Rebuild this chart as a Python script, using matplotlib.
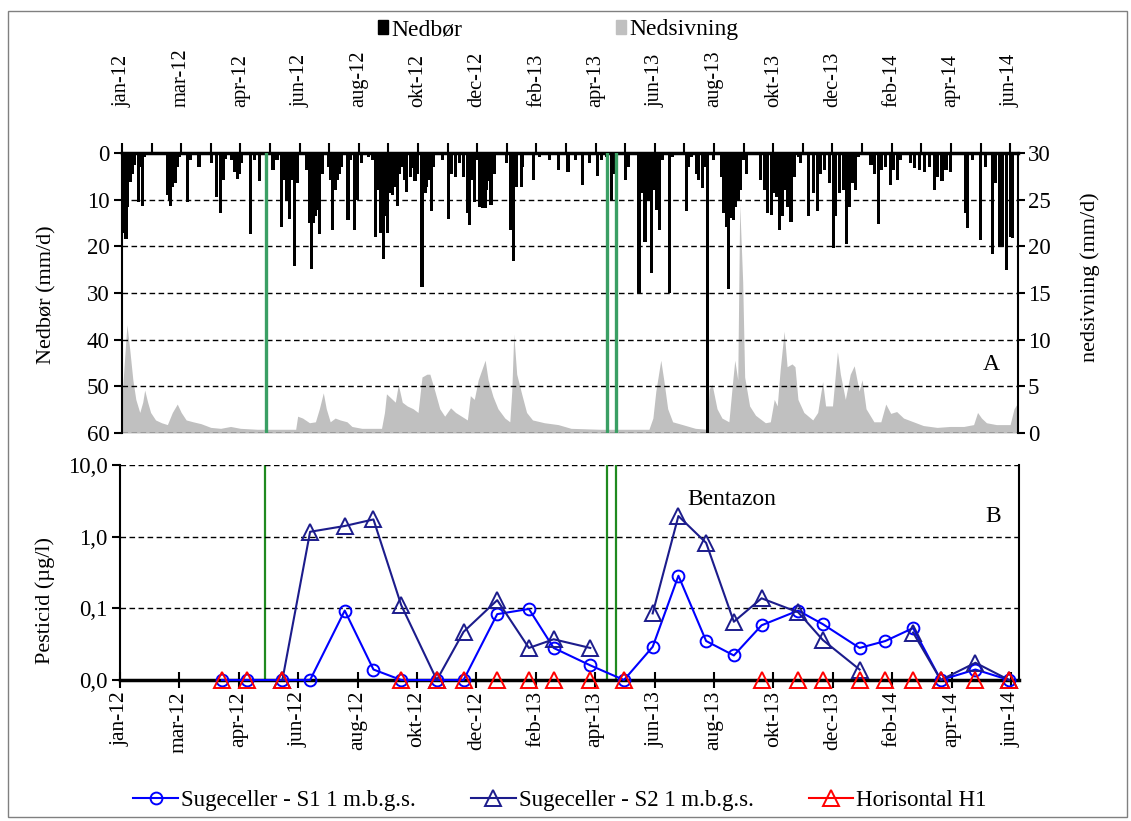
import numpy as np, matplotlib; matplotlib.use('Agg')
import matplotlib.pyplot as plt
from matplotlib.lines import Line2D
from matplotlib.patches import Patch, Rectangle
from matplotlib.ticker import NullLocator

plt.rcParams['font.family'] = ['Liberation Serif', 'DejaVu Serif']
FS_NUM = 16.5     # y tick numbers
FS_TOP = 14.7     # rotated month labels, top
FS_BOT = 15.5     # rotated month labels, bottom
FS_TXT = 17       # legends and notes

# x in days after 1 Jan 2012; Excel date axis with 60-day major unit
TICK_DAYS = list(range(0, 901, 60))
TICK_LABELS = ['jan-12', 'mar-12', 'apr-12', 'jun-12', 'aug-12', 'okt-12', 'dec-12', 'feb-13',
               'apr-13', 'jun-13', 'aug-13', 'okt-13', 'dec-13', 'feb-14', 'apr-14', 'jun-14']
APPLIC_DAYS = [146, 492, 501]  # green markers (application dates)

# Nedbør (mm/d)
RAIN_DAY = [2, 4, 6, 9, 11, 13, 17, 19, 21, 23, 46, 48, 49, 51, 54, 56, 58, 66, 69, 78,
            91, 96, 100, 103, 105, 111, 114, 117, 119, 121, 130, 134, 139, 153, 157, 162, 165, 167, 170, 172,
            175, 178, 187, 190, 192, 194, 196, 199, 200, 203, 209, 211, 213, 216, 218, 220, 222, 229, 231, 236,
            239, 243, 250, 254, 257, 259, 262, 265, 267, 269, 271, 274, 276, 279, 281, 284, 286, 288, 292, 294,
            297, 299, 304, 307, 309, 311, 314, 316, 325, 331, 334, 338, 342, 346, 350, 352, 355, 357, 359, 362,
            365, 368, 369, 372, 374, 377, 390, 394, 397, 400, 405, 406, 417, 423, 433, 442, 452, 460, 467, 474,
            482, 486, 491, 496, 499, 510, 513, 524, 527, 530, 534, 537, 540, 542, 545, 548, 555, 558, 572, 574,
            577, 582, 584, 588, 590, 593, 599, 608, 610, 613, 615, 617, 620, 622, 625, 627, 630, 633, 647, 651,
            654, 658, 660, 663, 666, 669, 672, 674, 678, 681, 686, 688, 696, 701, 705, 708, 712, 717, 721, 723,
            727, 731, 734, 737, 740, 743, 746, 759, 763, 767, 770, 774, 779, 782, 786, 789, 799, 803, 808, 813,
            818, 823, 826, 831, 835, 840, 855, 857, 862, 870, 875, 882, 885, 889, 892, 896, 900, 902]
RAIN_MM = [17.2, 18.5, 11.5, 6.3, 4.4, 2.6, 10.4, 3.0, 11.4, 0.8, 9.0, 10.1, 11.4, 7.2, 6.5, 2.9, 0.8, 10.4, 1.5, 2.9,
           2.2, 9.4, 12.8, 5.8, 1.2, 1.5, 4.0, 5.6, 4.4, 2.2, 17.4, 1.5, 6.1, 3.6, 1.5, 15.9, 5.8, 10.1, 14.1, 5.8,
           24.2, 6.5, 3.6, 15.1, 24.9, 15.1, 13.6, 12.2, 17.4, 4.4, 2.9, 5.8, 16.4, 7.9, 5.8, 4.4, 2.9, 14.4, 1.5, 16.4,
           10.1, 2.2, 0.8, 1.5, 17.9, 7.9, 17.2, 22.7, 13.6, 17.1, 8.6, 9.0, 7.2, 11.4, 4.4, 2.9, 5.8, 8.3, 5.1, 3.3,
           6.1, 4.4, 28.7, 8.6, 7.2, 5.8, 12.4, 2.9, 1.5, 14.1, 4.4, 5.1, 2.2, 5.1, 12.9, 15.4, 5.8, 10.4, 1.5, 11.5,
           11.7, 11.7, 7.9, 6.1, 11.1, 4.4, 2.2, 16.5, 23.1, 7.2, 7.2, 2.9, 5.8, 0.8, 1.5, 3.6, 4.0, 1.5, 6.9, 2.2,
           4.9, 1.5, 0.8, 10.1, 4.4, 5.8, 2.9, 29.9, 8.6, 19.0, 10.1, 25.8, 7.9, 12.2, 16.5, 1.5, 29.9, 0.8, 12.4, 2.9,
           0.8, 4.4, 5.8, 7.6, 2.9, 62.0, 1.5, 5.1, 12.9, 15.8, 29.2, 14.0, 14.4, 11.5, 10.1, 7.9, 1.5, 4.4, 5.8, 7.9,
           12.9, 13.3, 8.6, 9.4, 16.5, 13.6, 7.9, 11.5, 14.7, 5.1, 0.8, 2.2, 13.6, 8.6, 12.5, 4.4, 3.6, 6.5, 20.4, 13.6,
           8.6, 7.9, 19.4, 11.5, 6.5, 7.9, 0.8, 2.6, 4.4, 15.3, 3.6, 2.9, 6.9, 3.6, 5.8, 1.5, 2.2, 3.3, 3.6, 4.0,
           2.9, 7.9, 5.1, 6.1, 3.6, 4.0, 12.9, 16.1, 1.5, 18.6, 2.9, 21.7, 6.5, 20.1, 20.1, 25.0, 17.9, 18.2]

# Nedsivning (mm/d)
PERC_DAY = [0, 2, 5, 8, 11, 14, 18, 21, 23, 26, 29, 34, 40, 46, 51, 56, 60, 65, 72, 80,
            90, 100, 110, 120, 137, 164, 176, 178, 183, 190, 196, 200, 204, 207, 211, 216, 221, 228, 233, 243,
            263, 266, 268, 273, 277, 280, 284, 289, 295, 300, 304, 309, 312, 317, 322, 327, 333, 338, 344, 350,
            353, 357, 361, 365, 368, 371, 376, 381, 388, 393, 395, 397, 400, 405, 410, 416, 428, 442, 455, 484,
            534, 538, 541, 546, 549, 553, 558, 568, 581, 593, 595, 598, 603, 608, 615, 619, 621, 624, 626, 629,
            631, 636, 642, 652, 657, 661, 664, 667, 671, 674, 679, 682, 685, 691, 700, 705, 710, 713, 720, 725,
            728, 733, 738, 742, 747, 750, 754, 762, 769, 774, 779, 785, 792, 802, 812, 826, 839, 853, 863, 867,
            871, 876, 886, 900, 904, 907]
PERC_MM = [3.7, 7.0, 11.6, 8.8, 5.7, 3.6, 2.2, 3.3, 4.6, 3.3, 2.2, 1.4, 1.1, 0.9, 2.2, 3.1, 2.2, 1.4, 1.2, 1.0,
           0.6, 0.5, 0.7, 0.5, 0.4, 0.4, 0.4, 1.8, 1.6, 1.1, 1.2, 2.6, 4.3, 2.6, 1.2, 1.6, 1.4, 1.2, 0.7, 0.5,
           0.5, 2.2, 4.2, 3.7, 3.3, 5.2, 3.3, 2.9, 2.6, 2.2, 6.0, 6.3, 6.3, 4.5, 2.6, 1.8, 2.7, 2.2, 1.8, 1.4,
           4.0, 3.6, 5.7, 6.9, 7.8, 5.7, 3.9, 2.6, 1.6, 1.2, 4.5, 10.6, 6.3, 4.2, 2.2, 1.4, 1.1, 0.9, 0.5, 0.4,
           0.4, 1.6, 4.5, 7.8, 5.7, 2.6, 1.2, 0.9, 0.5, 0.4, 4.7, 5.2, 2.6, 1.6, 1.2, 5.7, 7.8, 5.7, 24.5, 16.2,
           6.0, 2.9, 1.9, 1.1, 1.2, 3.6, 2.9, 6.8, 10.9, 7.1, 7.4, 7.1, 3.6, 2.2, 1.4, 2.2, 5.5, 2.9, 2.9, 8.7,
           6.3, 3.6, 6.3, 7.2, 4.5, 5.7, 2.6, 1.2, 1.2, 3.1, 2.1, 2.3, 1.6, 1.2, 0.8, 0.6, 0.7, 0.7, 0.9, 2.2,
           1.6, 1.1, 0.9, 0.9, 2.6, 3.1]

# Bentazon (µg/l); 0.01 = "0,0" (not detected), nan = no sample
nan = np.nan
SAMPLE_DAY = [103, 128, 164, 192, 227, 256, 284, 320, 347, 381, 413, 438, 475, 509, 538, 564, 592, 620,
              648, 685, 710, 747, 773, 801, 829, 864, 898]
S1 = [0.01, 0.01, 0.01, 0.01, 0.093, 0.014, 0.01, 0.01, 0.01, 0.083, 0.098, 0.028, 0.016, 0.01, 0.029, 0.285,
      0.035, 0.022, 0.058, 0.093, 0.06, 0.028, 0.035, 0.053, 0.01, 0.014, 0.01]
S2 = [nan, nan, 0.01, 1.17, 1.41, 1.74, 0.111, 0.01, 0.047, 0.13, 0.028, 0.037, 0.028, nan, 0.085, 1.94,
      0.82, 0.065, 0.138, 0.088, 0.036, 0.014, nan, 0.046, 0.01, 0.0174, 0.01]
H1 = [0.01, 0.01, 0.01, nan, nan, nan, 0.01, 0.01, 0.01, 0.01, 0.01, 0.01, 0.01, 0.01, nan, nan, nan, nan,
      0.01, 0.01, 0.01, 0.01, 0.01, 0.01, 0.01, 0.01, 0.01]

W, H = 1131, 821
fig = plt.figure(figsize=(W / 100, H / 100), dpi=100)
XMAX = 908

# ---- panel A
ax1 = fig.add_axes([122 / W, 1 - 433 / H, 896 / W, 280 / H])
ax2 = ax1.twinx()
ax1.set_zorder(ax2.get_zorder() + 1); ax1.patch.set_visible(False)
ax2.fill_between(PERC_DAY, PERC_MM, color='#c0c0c0', lw=0)
ax2.set_ylim(0, 30); ax2.set_yticks(range(0, 31, 5))
ax1.bar(RAIN_DAY, RAIN_MM, width=3.2, color='black', lw=0)
ax1.set_ylim(60, 0); ax1.set_yticks(range(0, 61, 10))
ax1.set_xlim(0, XMAX)
for d in APPLIC_DAYS:
    ax1.axvline(d, color='#3a9f64', lw=2.4, zorder=5)
ax1.grid(axis='y', ls=(0, (4, 2.5)), color='black', lw=1)
ax1.xaxis.tick_top()
ax1.set_xticks(TICK_DAYS); ax1.set_xticklabels(TICK_LABELS, rotation=90)
ax1.set_xticks([d + 30 for d in TICK_DAYS[:-1]], minor=True)
ax1.tick_params(axis='x', which='both', direction='out', length=7, width=1.5, labelsize=FS_TOP, pad=26)
ax1.tick_params(axis='y', direction='out', length=6, width=1.5, labelsize=FS_NUM, pad=3)
ax2.tick_params(axis='y', direction='out', length=5, width=1.5, labelsize=FS_NUM, pad=2)
for s in ['bottom', 'right']:
    ax1.spines[s].set_visible(False)
ax1.spines['top'].set_linewidth(2.5); ax1.spines['left'].set_linewidth(1.5)
for s in ['bottom', 'top', 'left']:
    ax2.spines[s].set_visible(False)
ax2.spines['right'].set_linewidth(1.5)
ax1.text(0.97, 0.245, 'A', transform=ax1.transAxes, fontsize=FS_TXT, ha='center', va='center')

# ---- panel B
ax3 = fig.add_axes([120 / W, 1 - 680 / H, 899 / W, 215 / H])
ax3.set_yscale('log'); ax3.set_ylim(0.01, 10); ax3.set_xlim(0, XMAX)
ax3.set_yticks([0.01, 0.1, 1, 10]); ax3.set_yticklabels(['0,0', '0,1', '1,0', '10,0'])
ax3.yaxis.set_minor_locator(NullLocator())
ax3.grid(axis='y', ls=(0, (4, 2.5)), color='black', lw=1)
for d in APPLIC_DAYS:
    ax3.axvline(d, color='#1f8a1f', lw=1.6, zorder=1)
ax3.plot(SAMPLE_DAY, S1, color='#0000ff', marker='o', mfc='none', ms=8.5, mew=1.4, lw=1.5,
         clip_on=False, zorder=4)
ax3.plot(SAMPLE_DAY, S2, color='#1c1c8c', marker='^', mfc='none', ms=12, mew=1.4, lw=1.5,
         clip_on=False, zorder=4)
ax3.plot(SAMPLE_DAY, H1, color='#ff0000', marker='^', mfc='none', ms=12, mew=1.4, ls='none',
         clip_on=False, zorder=5)
ax3.set_xticks(TICK_DAYS); ax3.set_xticklabels(TICK_LABELS, rotation=90)
ax3.tick_params(axis='x', direction='inout', length=12, width=1.5, labelsize=FS_BOT, pad=2)
ax3.tick_params(axis='y', direction='out', length=6, width=1.5, labelsize=FS_NUM, pad=3)
ax3.spines['top'].set_visible(False)
ax3.spines['bottom'].set_linewidth(2.5)
ax3.spines['left'].set_linewidth(1.5); ax3.spines['right'].set_linewidth(1.5)
ax3.text(0.681, 0.84, 'Bentazon', transform=ax3.transAxes, fontsize=FS_TXT, ha='center', va='center')
ax3.text(0.971, 0.76, 'B', transform=ax3.transAxes, fontsize=FS_TXT, ha='center', va='center')

# ---- axis titles
fig.text(47 / W, 1 - 295 / H, 'Nedbør (mm/d)', rotation=90, ha='center', va='center', fontsize=16)
fig.text(1090 / W, 1 - 277 / H, 'nedsivning (mm/d)', rotation=90, ha='center', va='center', fontsize=16)
fig.text(45 / W, 1 - 600 / H, 'Pesticid (µg/l)', rotation=90, ha='center', va='center', fontsize=16)

# ---- legends
fig.legend(handles=[Patch(color='black'), Patch(color='#c0c0c0')], labels=['Nedbør', 'Nedsivning'],
           loc='center', bbox_to_anchor=(558 / W, 1 - 30 / H), ncol=2, frameon=False, fontsize=FS_TXT,
           handlelength=0.45, handleheight=0.5, handletextpad=0.12, columnspacing=6.5)
h_s1 = Line2D([], [], color='#0000ff', marker='o', mfc='none', ms=8.5, mew=1.4, lw=1.5)
h_s2 = Line2D([], [], color='#1c1c8c', marker='^', mfc='none', ms=12, mew=1.4, lw=1.5)
h_h1 = Line2D([], [], color='#ff0000', marker='^', mfc='none', ms=12, mew=1.4, lw=1.5)
fig.legend(handles=[h_s1, h_s2, h_h1],
           labels=['Sugeceller - S1 1 m.b.g.s.', 'Sugeceller - S2 1 m.b.g.s.', 'Horisontal H1'],
           loc='center', bbox_to_anchor=(560 / W, 1 - 800 / H), ncol=3, frameon=False, fontsize=16.5,
           handlelength=1.96, handletextpad=0.13, columnspacing=2.4)

fig.add_artist(Rectangle((8 / W, 1 - 817 / H), 1119 / W, 806 / H, transform=fig.transFigure,
                         fill=False, ec='#808080', lw=1))
fig.savefig('out.png', dpi=100)
